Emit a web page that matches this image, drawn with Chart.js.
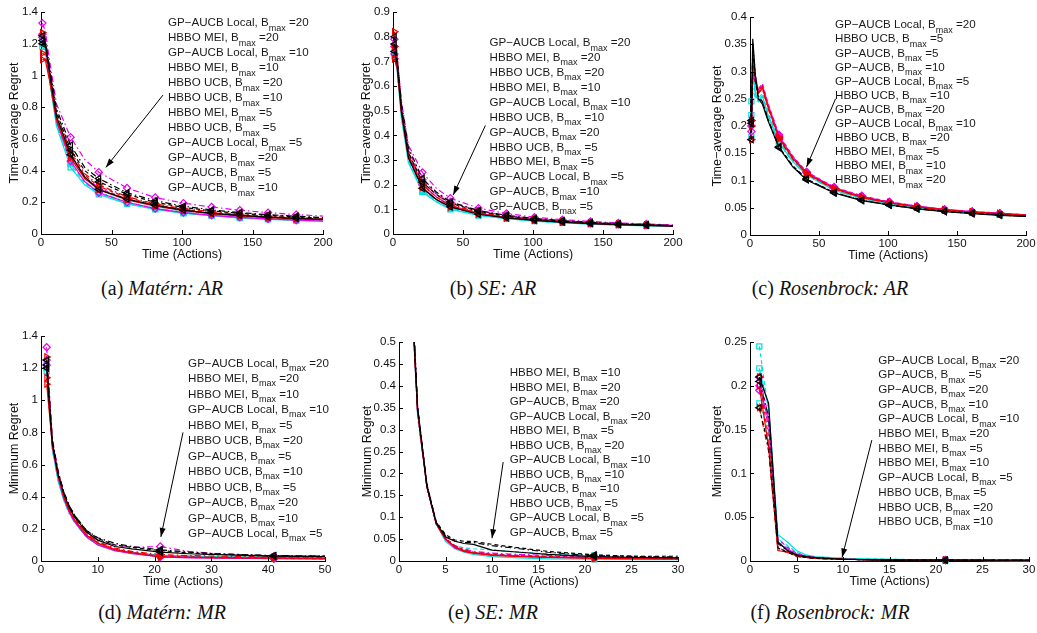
<!DOCTYPE html>
<html>
<head>
<meta charset="utf-8">
<script src="https://cdn.jsdelivr.net/npm/chart.js@4.4.1/dist/chart.umd.min.js"></script>
<style>
  body { margin: 0; background: #fff; width: 1037px; height: 633px; position: relative; overflow: hidden; }
  canvas { position: absolute; }
  .cap { position: absolute; font-family: "Liberation Serif", serif; font-size: 20px; color: #111;
         transform: translate(-50%, -50%); white-space: nowrap; }
  .cap i { font-style: italic; }
</style>
</head>
<body>
<canvas id="ca"></canvas>
<canvas id="cb"></canvas>
<canvas id="cc"></canvas>
<canvas id="cd"></canvas>
<canvas id="ce"></canvas>
<canvas id="cf"></canvas>
<div class="cap" style="left:162px;top:288px">(a) <i>Matérn: AR</i></div>
<div class="cap" style="left:493px;top:288px">(b) <i>SE: AR</i></div>
<div class="cap" style="left:830px;top:288px">(c) <i>Rosenbrock: AR</i></div>
<div class="cap" style="left:162px;top:612px">(d) <i>Matérn: MR</i></div>
<div class="cap" style="left:493px;top:612px">(e) <i>SE: MR</i></div>
<div class="cap" style="left:830px;top:612px">(f) <i>Rosenbrock: MR</i></div>
<script>
// ---- data (rows = Bmax 5, 10, 20) ----
// (a) Matérn, time-average regret
const matAR_x = [1, 3, 6, 11, 21, 31, 41, 61, 81, 101, 121, 141, 161, 181, 200];
const matAR_gp = [
  [1.22, 1.18, 0.98, 0.68, 0.42, 0.31, 0.25, 0.19, 0.155, 0.13, 0.115, 0.1, 0.092, 0.085, 0.08],
  [1.18, 1.15, 0.97, 0.69, 0.44, 0.32, 0.26, 0.195, 0.16, 0.135, 0.118, 0.105, 0.095, 0.088, 0.082],
  [1.2, 1.16, 0.98, 0.7, 0.45, 0.33, 0.265, 0.2, 0.163, 0.138, 0.12, 0.107, 0.097, 0.09, 0.084]
];
const matAR_local = [
  [1.1, 1.1, 0.97, 0.72, 0.48, 0.35, 0.28, 0.215, 0.175, 0.148, 0.128, 0.114, 0.103, 0.095, 0.09],
  [1.14, 1.13, 1.0, 0.74, 0.5, 0.37, 0.3, 0.23, 0.185, 0.155, 0.135, 0.12, 0.108, 0.1, 0.093],
  [1.27, 1.22, 1.04, 0.76, 0.52, 0.38, 0.31, 0.235, 0.19, 0.16, 0.14, 0.124, 0.112, 0.103, 0.096]
];
const matAR_mei = [
  [1.24, 1.2, 1.0, 0.71, 0.46, 0.33, 0.26, 0.2, 0.16, 0.135, 0.118, 0.105, 0.095, 0.087, 0.082],
  [1.26, 1.22, 1.02, 0.74, 0.5, 0.36, 0.29, 0.22, 0.18, 0.15, 0.13, 0.116, 0.105, 0.097, 0.09],
  [1.33, 1.28, 1.1, 0.82, 0.61, 0.47, 0.39, 0.29, 0.23, 0.195, 0.17, 0.15, 0.135, 0.122, 0.113]
];
const matAR_ucb = [
  [1.2, 1.2, 1.02, 0.74, 0.5, 0.36, 0.28, 0.22, 0.18, 0.15, 0.13, 0.117, 0.106, 0.098, 0.092],
  [1.22, 1.21, 1.04, 0.77, 0.53, 0.4, 0.33, 0.25, 0.2, 0.168, 0.146, 0.13, 0.118, 0.108, 0.1],
  [1.25, 1.23, 1.06, 0.79, 0.56, 0.42, 0.35, 0.26, 0.21, 0.175, 0.152, 0.135, 0.122, 0.112, 0.104]
];
const matAR_labels = [['local', 20], ['mei', 20], ['local', 10], ['mei', 10], ['ucb', 20], ['ucb', 10],
  ['mei', 5], ['ucb', 5], ['local', 5], ['gp', 20], ['gp', 5], ['gp', 10]];

// (b) SE, time-average regret
const seAR_x = [1, 3, 6, 11, 21, 31, 41, 61, 81, 101, 121, 141, 161, 181, 200];
const seAR_gp = [
  [0.72, 0.66, 0.47, 0.29, 0.17, 0.13, 0.1, 0.075, 0.062, 0.052, 0.045, 0.04, 0.036, 0.033, 0.031],
  [0.74, 0.67, 0.48, 0.3, 0.175, 0.133, 0.103, 0.077, 0.063, 0.053, 0.046, 0.041, 0.037, 0.034, 0.031],
  [0.73, 0.67, 0.48, 0.3, 0.18, 0.135, 0.105, 0.078, 0.064, 0.054, 0.047, 0.041, 0.037, 0.034, 0.032]
];
const seAR_local = [
  [0.71, 0.67, 0.49, 0.31, 0.19, 0.14, 0.11, 0.082, 0.066, 0.056, 0.048, 0.043, 0.039, 0.035, 0.033],
  [0.76, 0.69, 0.5, 0.32, 0.2, 0.15, 0.115, 0.085, 0.068, 0.057, 0.049, 0.044, 0.039, 0.036, 0.033],
  [0.82, 0.72, 0.52, 0.33, 0.21, 0.16, 0.12, 0.088, 0.07, 0.059, 0.051, 0.045, 0.04, 0.037, 0.034]
];
const seAR_mei = [
  [0.73, 0.68, 0.5, 0.32, 0.2, 0.15, 0.115, 0.085, 0.068, 0.057, 0.049, 0.043, 0.039, 0.036, 0.033],
  [0.76, 0.7, 0.52, 0.34, 0.22, 0.165, 0.13, 0.095, 0.075, 0.062, 0.053, 0.047, 0.042, 0.038, 0.035],
  [0.79, 0.72, 0.54, 0.36, 0.25, 0.185, 0.145, 0.105, 0.083, 0.068, 0.058, 0.051, 0.045, 0.041, 0.037]
];
const seAR_ucb = [
  [0.74, 0.69, 0.5, 0.31, 0.185, 0.14, 0.11, 0.08, 0.065, 0.055, 0.048, 0.042, 0.038, 0.035, 0.032],
  [0.77, 0.7, 0.51, 0.33, 0.21, 0.16, 0.125, 0.092, 0.073, 0.061, 0.052, 0.046, 0.041, 0.037, 0.034],
  [0.8, 0.71, 0.53, 0.35, 0.225, 0.17, 0.13, 0.095, 0.076, 0.063, 0.054, 0.047, 0.042, 0.038, 0.035]
];
const seAR_labels = [['local', 20], ['mei', 20], ['ucb', 20], ['mei', 10], ['local', 10], ['ucb', 10],
  ['gp', 20], ['ucb', 5], ['mei', 5], ['local', 5], ['gp', 10], ['gp', 5]];

// (c) Rosenbrock, time-average regret
const rosAR_x = [1, 2, 4, 6, 9, 13, 21, 31, 41, 61, 81, 101, 121, 141, 161, 181, 200];
const rosAR_gp = [
  [0.245, 0.3, 0.26, 0.245, 0.255, 0.22, 0.17, 0.135, 0.11, 0.082, 0.067, 0.057, 0.05, 0.045, 0.041, 0.038, 0.035],
  [0.22, 0.29, 0.255, 0.25, 0.26, 0.225, 0.172, 0.137, 0.111, 0.083, 0.068, 0.058, 0.05, 0.045, 0.041, 0.038, 0.035],
  [0.18, 0.27, 0.25, 0.245, 0.255, 0.22, 0.168, 0.134, 0.109, 0.082, 0.067, 0.057, 0.05, 0.045, 0.041, 0.038, 0.035]
];
const rosAR_local = [
  [0.2, 0.33, 0.29, 0.26, 0.27, 0.235, 0.178, 0.14, 0.113, 0.085, 0.069, 0.059, 0.052, 0.046, 0.042, 0.039, 0.036],
  [0.175, 0.32, 0.29, 0.265, 0.272, 0.237, 0.18, 0.142, 0.114, 0.086, 0.07, 0.06, 0.052, 0.046, 0.042, 0.039, 0.036],
  [0.21, 0.31, 0.28, 0.26, 0.268, 0.233, 0.176, 0.139, 0.112, 0.084, 0.069, 0.059, 0.051, 0.046, 0.042, 0.039, 0.036]
];
const rosAR_mei = [
  [0.21, 0.3, 0.28, 0.265, 0.275, 0.24, 0.182, 0.143, 0.115, 0.087, 0.071, 0.06, 0.053, 0.047, 0.043, 0.04, 0.037],
  [0.2, 0.31, 0.285, 0.268, 0.278, 0.242, 0.184, 0.145, 0.116, 0.088, 0.072, 0.061, 0.053, 0.047, 0.043, 0.04, 0.037],
  [0.19, 0.29, 0.28, 0.262, 0.272, 0.238, 0.18, 0.142, 0.114, 0.086, 0.07, 0.06, 0.052, 0.046, 0.042, 0.039, 0.036]
];
const rosAR_ucb = [
  [0.21, 0.36, 0.29, 0.25, 0.24, 0.21, 0.16, 0.125, 0.101, 0.077, 0.063, 0.055, 0.048, 0.043, 0.039, 0.036, 0.034],
  [0.175, 0.34, 0.28, 0.25, 0.245, 0.213, 0.162, 0.127, 0.103, 0.078, 0.064, 0.055, 0.049, 0.044, 0.04, 0.037, 0.034],
  [0.205, 0.35, 0.29, 0.255, 0.245, 0.212, 0.161, 0.126, 0.102, 0.078, 0.064, 0.055, 0.048, 0.043, 0.04, 0.037, 0.034]
];
const rosAR_labels = [['local', 20], ['ucb', 5], ['gp', 5], ['gp', 10], ['local', 5], ['ucb', 10],
  ['gp', 20], ['local', 10], ['ucb', 20], ['mei', 5], ['mei', 10], ['mei', 20]];

// (d) Matérn, minimum regret
const matMR_x = [1, 2, 3, 4, 5, 6, 8, 10, 13, 16, 21, 26, 31, 41, 50];
const matMR_gp = [
  [1.22, 0.7, 0.5, 0.38, 0.3, 0.24, 0.15, 0.1, 0.065, 0.05, 0.035, 0.03, 0.026, 0.022, 0.02],
  [1.2, 0.7, 0.51, 0.39, 0.3, 0.245, 0.155, 0.105, 0.07, 0.052, 0.036, 0.03, 0.027, 0.023, 0.021],
  [1.18, 0.69, 0.5, 0.38, 0.29, 0.235, 0.148, 0.1, 0.066, 0.05, 0.034, 0.029, 0.025, 0.022, 0.02]
];
const matMR_local = [
  [1.1, 0.72, 0.53, 0.4, 0.31, 0.25, 0.16, 0.11, 0.07, 0.05, 0.025, 0.022, 0.02, 0.018, 0.017],
  [1.14, 0.73, 0.54, 0.41, 0.32, 0.26, 0.165, 0.115, 0.075, 0.055, 0.03, 0.026, 0.023, 0.02, 0.018],
  [1.27, 0.75, 0.55, 0.42, 0.33, 0.27, 0.17, 0.12, 0.08, 0.06, 0.04, 0.034, 0.03, 0.025, 0.022]
];
const matMR_mei = [
  [1.22, 0.71, 0.52, 0.39, 0.3, 0.24, 0.15, 0.1, 0.065, 0.045, 0.025, 0.02, 0.017, 0.014, 0.012],
  [1.25, 0.73, 0.53, 0.4, 0.31, 0.25, 0.16, 0.11, 0.072, 0.052, 0.03, 0.024, 0.02, 0.016, 0.013],
  [1.33, 0.76, 0.56, 0.43, 0.34, 0.28, 0.18, 0.13, 0.1, 0.085, 0.09, 0.06, 0.045, 0.03, 0.027]
];
const matMR_ucb = [
  [1.2, 0.73, 0.54, 0.42, 0.33, 0.27, 0.18, 0.13, 0.09, 0.075, 0.055, 0.045, 0.04, 0.03, 0.028],
  [1.22, 0.74, 0.55, 0.43, 0.34, 0.28, 0.19, 0.14, 0.1, 0.085, 0.065, 0.05, 0.042, 0.032, 0.03],
  [1.25, 0.75, 0.56, 0.43, 0.34, 0.28, 0.19, 0.145, 0.11, 0.09, 0.07, 0.055, 0.045, 0.034, 0.031]
];
const matMR_labels = [['local', 20], ['mei', 20], ['mei', 10], ['local', 10], ['mei', 5], ['ucb', 20],
  ['gp', 5], ['ucb', 10], ['ucb', 5], ['gp', 20], ['gp', 10], ['local', 5]];

// (e) SE, minimum regret
const seMR_x = [1, 2, 3, 4, 5, 6, 7, 8, 10, 13, 16, 21, 26, 30];
const seMR_gp = [
  [0.76, 0.34, 0.17, 0.085, 0.045, 0.028, 0.02, 0.015, 0.01, 0.007, 0.005, 0.004, 0.003, 0.003],
  [0.77, 0.34, 0.17, 0.085, 0.05, 0.035, 0.03, 0.028, 0.025, 0.02, 0.016, 0.013, 0.012, 0.012],
  [0.75, 0.33, 0.17, 0.085, 0.048, 0.032, 0.025, 0.02, 0.015, 0.012, 0.01, 0.009, 0.008, 0.008]
];
const seMR_local = [
  [0.76, 0.34, 0.17, 0.085, 0.05, 0.032, 0.022, 0.018, 0.013, 0.01, 0.008, 0.006, 0.005, 0.005],
  [0.77, 0.34, 0.17, 0.086, 0.052, 0.035, 0.025, 0.02, 0.015, 0.012, 0.01, 0.008, 0.006, 0.005],
  [0.8, 0.35, 0.17, 0.085, 0.05, 0.033, 0.024, 0.019, 0.014, 0.011, 0.009, 0.007, 0.006, 0.005]
];
const seMR_mei = [
  [0.75, 0.34, 0.17, 0.085, 0.05, 0.03, 0.022, 0.018, 0.014, 0.011, 0.009, 0.007, 0.006, 0.005],
  [0.77, 0.34, 0.17, 0.086, 0.05, 0.032, 0.025, 0.02, 0.016, 0.013, 0.011, 0.009, 0.008, 0.007],
  [0.79, 0.35, 0.17, 0.085, 0.052, 0.035, 0.028, 0.022, 0.018, 0.015, 0.013, 0.01, 0.009, 0.008]
];
const seMR_ucb = [
  [0.76, 0.35, 0.17, 0.087, 0.055, 0.045, 0.04, 0.038, 0.025, 0.02, 0.015, 0.01, 0.008, 0.007],
  [0.78, 0.35, 0.175, 0.09, 0.06, 0.048, 0.045, 0.045, 0.038, 0.03, 0.022, 0.014, 0.01, 0.009],
  [0.8, 0.35, 0.175, 0.088, 0.058, 0.045, 0.042, 0.042, 0.035, 0.028, 0.02, 0.012, 0.01, 0.009]
];
const seMR_labels = [['mei', 10], ['mei', 20], ['gp', 20], ['local', 20], ['mei', 5], ['ucb', 20],
  ['local', 10], ['ucb', 10], ['gp', 10], ['ucb', 5], ['local', 5], ['gp', 5]];

// (f) Rosenbrock, minimum regret
const rosMR_x = [1, 2, 3, 4, 5, 6, 7, 10, 15, 21, 30];
const rosMR_gp = [
  [0.22, 0.175, 0.03, 0.022, 0.012, 0.007, 0.005, 0.003, 0.002, 0.001, 0.001],
  [0.245, 0.17, 0.025, 0.018, 0.01, 0.006, 0.004, 0.003, 0.002, 0.001, 0.001],
  [0.18, 0.15, 0.022, 0.015, 0.008, 0.005, 0.004, 0.002, 0.001, 0.001, 0.001]
];
const rosMR_local = [
  [0.2, 0.13, 0.012, 0.01, 0.006, 0.004, 0.003, 0.002, 0.001, 0.001, 0],
  [0.21, 0.14, 0.015, 0.011, 0.006, 0.004, 0.003, 0.002, 0.001, 0.001, 0],
  [0.175, 0.125, 0.013, 0.01, 0.005, 0.004, 0.003, 0.002, 0.001, 0.001, 0]
];
const rosMR_mei = [
  [0.2, 0.16, 0.02, 0.014, 0.008, 0.005, 0.004, 0.002, 0.001, 0.001, 0],
  [0.21, 0.165, 0.025, 0.016, 0.009, 0.006, 0.004, 0.002, 0.001, 0.001, 0],
  [0.195, 0.155, 0.02, 0.013, 0.007, 0.005, 0.003, 0.002, 0.001, 0.001, 0]
];
const rosMR_ucb = [
  [0.21, 0.18, 0.022, 0.012, 0.007, 0.005, 0.004, 0.002, 0.001, 0.001, 0.001],
  [0.175, 0.13, 0.015, 0.01, 0.006, 0.004, 0.003, 0.002, 0.001, 0.001, 0.001],
  [0.205, 0.165, 0.02, 0.012, 0.007, 0.005, 0.004, 0.002, 0.001, 0.001, 0.001]
];
const rosMR_labels = [['local', 20], ['gp', 5], ['gp', 20], ['gp', 10], ['local', 10], ['mei', 20],
  ['mei', 5], ['mei', 10], ['local', 5], ['ucb', 5], ['ucb', 20], ['ucb', 10]];

const bmaxes = [5, 10, 20];
const methodNames = { gp: 'GP−AUCB', local: 'GP−AUCB Local', mei: 'HBBO MEI', ucb: 'HBBO UCB' };

// ---- styles ----
const methodStyle = {
  ucb:   { color: '#000000', marker: 'triangle', rot: -90 },
  local: { color: '#ee0000', marker: 'triangle', rot: 90 },
  mei:   { color: '#e800e8', marker: 'rectRot', rot: 0 },
  gp:    { color: '#00dede', marker: 'rect', rot: 0 }
};
const dashes = [[], [4, 3], [6, 3, 1.5, 3]];
const FONT = '"Liberation Sans", Arial, sans-serif';

// MATLAB style ticks pointing inside the axes
const inwardTicks = {
  id: 'inwardTicks',
  afterDraw(chart) {
    const { ctx, chartArea: a, scales: { x, y } } = chart;
    ctx.save();
    ctx.strokeStyle = '#000';
    ctx.lineWidth = 1;
    ctx.beginPath();
    x.ticks.forEach(t => {
      const px = Math.round(x.getPixelForValue(t.value)) + 0.5;
      ctx.moveTo(px, a.bottom); ctx.lineTo(px, a.bottom - 4);
    });
    y.ticks.forEach(t => {
      const py = Math.round(y.getPixelForValue(t.value)) + 0.5;
      ctx.moveTo(a.left, py); ctx.lineTo(a.left + 4, py);
    });
    ctx.stroke();
    ctx.restore();
  }
};

// text list with subscript "max" and an arrow pointing at the curves
const notes = {
  id: 'notes',
  afterDraw(chart, args, opts) {
    if (!opts.labels) return;
    const { ctx, scales: { x, y } } = chart;
    ctx.save();
    // arrow
    const [ax0, ay0, ax1, ay1] = opts.arrow;
    const x0 = x.getPixelForValue(ax0), y0 = y.getPixelForValue(ay0);
    const x1 = x.getPixelForValue(ax1), y1 = y.getPixelForValue(ay1);
    const ang = Math.atan2(y1 - y0, x1 - x0);
    ctx.strokeStyle = '#000';
    ctx.fillStyle = '#000';
    ctx.lineWidth = 1;
    ctx.beginPath(); ctx.moveTo(x0, y0); ctx.lineTo(x1, y1); ctx.stroke();
    ctx.beginPath();
    ctx.moveTo(x1, y1);
    ctx.lineTo(x1 - 9 * Math.cos(ang) + 3 * Math.sin(ang), y1 - 9 * Math.sin(ang) - 3 * Math.cos(ang));
    ctx.lineTo(x1 - 9 * Math.cos(ang) - 3 * Math.sin(ang), y1 - 9 * Math.sin(ang) + 3 * Math.cos(ang));
    ctx.closePath(); ctx.fill();
    // text
    const left = x.getPixelForValue(opts.x);
    const top = y.getPixelForValue(opts.y);
    ctx.fillStyle = '#1a1a1a';
    ctx.textBaseline = 'middle';
    opts.labels.forEach(([m, b], i) => {
      const ty = top + i * opts.step;
      let tx = left;
      const main = methodNames[m] + ', B';
      ctx.font = '11.6px ' + FONT;
      ctx.fillText(main, tx, ty);
      tx += ctx.measureText(main).width;
      ctx.font = '9px ' + FONT;
      ctx.fillText('max', tx, ty + 5);
      tx += ctx.measureText('max').width;
      ctx.font = '11.6px ' + FONT;
      ctx.fillText(' =' + b, tx, ty);
    });
    ctx.restore();
  }
};

function buildDatasets(xs, series, markX) {
  const out = [];
  ['ucb', 'local', 'mei', 'gp'].forEach(m => {
    const st = methodStyle[m];
    series[m].forEach((ys, k) => {
      out.push({
        label: methodNames[m] + ', Bmax=' + bmaxes[k],
        data: xs.map((xv, i) => ({ x: xv, y: ys[i] })),
        borderColor: st.color,
        borderWidth: 1.2,
        borderDash: dashes[k],
        pointStyle: st.marker,
        pointRotation: st.rot,
        pointBorderColor: st.color,
        pointBackgroundColor: 'rgba(0,0,0,0)',
        pointBorderWidth: 1.2,
        pointRadius: c => (c.raw && markX.includes(c.raw.x)) ? 3.6 : 0,
        tension: 0,
        fill: false
      });
    });
  });
  return out;
}

function makePanel(cfg) {
  const [aL, aT, aR, aB] = cfg.area;
  const left = aL - cfg.yW, top = cfg.rowTop;
  const w = aR + 12 - left, h = aB + 28 - top;
  const cv = document.getElementById(cfg.id);
  cv.width = w; cv.height = h;
  cv.style.left = left + 'px'; cv.style.top = top + 'px';
  cv.style.width = w + 'px'; cv.style.height = h + 'px';
  const tickFont = { family: FONT, size: 11.5 };
  const titleFont = { family: FONT, size: 12.5 };
  new Chart(cv.getContext('2d'), {
    type: 'line',
    data: { datasets: buildDatasets(cfg.xs, cfg.series, cfg.markX) },
    options: {
      responsive: false,
      animation: false,
      clip: cfg.clip,
      layout: { padding: { top: aT - top, right: 12, left: 0, bottom: 0 } },
      plugins: {
        legend: { display: false },
        tooltip: { enabled: false },
        notes: cfg.notes
      },
      scales: {
        x: {
          type: 'linear', min: cfg.xRange[0], max: cfg.xRange[1],
          grid: { display: false, drawTicks: false },
          border: { display: true, color: '#000', width: 1 },
          ticks: { stepSize: cfg.xRange[2], color: '#111', font: tickFont, padding: 2, maxRotation: 0, autoSkip: false },
          title: { display: true, text: 'Time (Actions)', color: '#111', font: titleFont, padding: 0 },
          afterFit: s => { s.height = 28; }
        },
        y: {
          type: 'linear', min: cfg.yRange[0], max: cfg.yRange[1],
          grid: { display: false, drawTicks: false },
          border: { display: true, color: '#000', width: 1 },
          ticks: { stepSize: cfg.yRange[2], color: '#111', font: tickFont, padding: 3, autoSkip: false,
                   callback: v => String(+v.toFixed(3)) },
          title: { display: true, text: cfg.yTitle, color: '#111', font: titleFont, padding: 0 },
          afterFit: s => { s.width = cfg.yW; }
        }
      }
    },
    plugins: [inwardTicks, notes]
  });
}

const arMarks = [1, 21, 41, 61, 81, 101, 121, 141, 161, 181];
const side = { left: 8, right: 8, top: 8, bottom: 8 };

makePanel({ id: 'ca', area: [41, 12, 323, 234], yW: 34, rowTop: 0, clip: side,
  xs: matAR_x, series: { gp: matAR_gp, local: matAR_local, mei: matAR_mei, ucb: matAR_ucb },
  markX: arMarks, xRange: [0, 200, 50], yRange: [0, 1.4, 0.2], yTitle: 'Time−average Regret',
  notes: { labels: matAR_labels, x: 90, y: 1.33, step: 15, arrow: [86.5, 0.876, 46, 0.42] } });

makePanel({ id: 'cb', area: [393, 12, 673, 234], yW: 34, rowTop: 0, clip: side,
  xs: seAR_x, series: { gp: seAR_gp, local: seAR_local, mei: seAR_mei, ucb: seAR_ucb },
  markX: arMarks, xRange: [0, 200, 50], yRange: [0, 0.9, 0.1], yTitle: 'Time−average Regret',
  notes: { labels: seAR_labels, x: 69, y: 0.774, step: 14.9, arrow: [66, 0.44, 43, 0.158] } });

makePanel({ id: 'cc', area: [750, 17, 1026, 235], yW: 40, rowTop: 0, clip: side,
  xs: rosAR_x, series: { gp: rosAR_gp, local: rosAR_local, mei: rosAR_mei, ucb: rosAR_ucb },
  markX: arMarks, xRange: [0, 200, 50], yRange: [0, 0.4, 0.05], yTitle: 'Time−average Regret',
  notes: { labels: rosAR_labels, x: 61.6, y: 0.385, step: 14.1, arrow: [62, 0.25, 41, 0.125] } });

makePanel({ id: 'cd', area: [41, 336, 325, 561], yW: 34, rowTop: 300, clip: side,
  xs: matMR_x, series: { gp: matMR_gp, local: matMR_local, mei: matMR_mei, ucb: matMR_ucb },
  markX: [1, 21, 41], xRange: [0, 50, 10], yRange: [0, 1.4, 0.2], yTitle: 'Minimum Regret',
  notes: { labels: matMR_labels, x: 25.9, y: 1.23, step: 15.5, arrow: [25, 0.8, 21.1, 0.15] } });

makePanel({ id: 'ce', area: [399, 342, 678, 561], yW: 39, rowTop: 300,
  clip: { left: 8, right: 8, top: 0, bottom: 8 },
  xs: seMR_x, series: { gp: seMR_gp, local: seMR_local, mei: seMR_mei, ucb: seMR_ucb },
  markX: [1, 21], xRange: [0, 30, 5], yRange: [0, 0.5, 0.05], yTitle: 'Minimum Regret',
  notes: { labels: seMR_labels, x: 11.9, y: 0.429, step: 14.5, arrow: [11.2, 0.226, 10, 0.052] } });

makePanel({ id: 'cf', area: [750, 342, 1029, 561], yW: 40, rowTop: 300, clip: side,
  xs: rosMR_x, series: { gp: rosMR_gp, local: rosMR_local, mei: rosMR_mei, ucb: rosMR_ucb },
  markX: [1, 21], xRange: [0, 30, 5], yRange: [0, 0.25, 0.05], yTitle: 'Minimum Regret',
  notes: { labels: rosMR_labels, x: 13.8, y: 0.229, step: 14.7, arrow: [13.1, 0.138, 9.9, 0.004] } });
</script>
</body>
</html>
